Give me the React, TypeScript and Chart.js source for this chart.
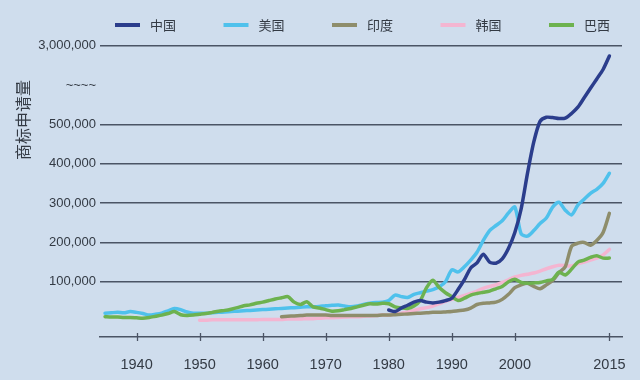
import React, { useEffect, useRef } from "react";
import { Chart, registerables } from "chart.js";

Chart.register(...registerables);

// ---- data (values in thousands of trademark applications) ----
const seriesNames = ["中国", "美国", "印度", "韩国", "巴西"];
const seriesColors = ["#2b3d8c", "#4fc1ec", "#8e8d6b", "#f4b5d1", "#6db24f"];

const chinaStart = 1980;
const chinaValues = [
  28, 24, 33, 40, 48, 52, 48, 46, 48, 52,
  58, 80, 105, 135, 148, 170, 150, 147, 158, 185,
  225, 285, 375, 455, 600, 730, 720, 690, 700, 850,
  1050, 1350, 1650, 1950, 2250, 2680,
];

const usStart = 1935;
const usValues = [
  20, 21, 22, 21, 24, 22, 19, 15, 17, 20,
  26, 32, 29, 23, 20, 20, 20, 21, 22, 23,
  24, 25, 26, 27, 28, 29, 30, 31, 32, 33,
  34, 35, 36, 36, 37, 39, 40, 41, 38, 36,
  38, 42, 45, 47, 48, 52, 66, 62, 60, 68,
  72, 76, 80, 87, 100, 130, 125, 138, 155, 175,
  205, 230, 243, 255, 275, 290, 222, 216, 230, 248,
  262, 290, 302, 282, 270, 295, 310, 325, 335, 350,
  376,
];

const indiaStart = 1963;
const indiaValues = [
  11, 12, 13, 14, 15, 15, 15, 15, 14, 14,
  14, 14, 14, 14, 14, 14, 15, 15, 16, 17,
  18, 19, 20, 21, 22, 22, 23, 24, 26, 28,
  33, 42, 45, 46, 48, 55, 68, 85, 92, 96,
  88, 82, 92, 103, 123, 138, 190, 198, 200, 193,
  205, 225, 274,
];

const koreaStart = 1950;
const koreaValues = [
  2, 2, 3, 3, 3, 3, 3, 3, 3, 3,
  4, 4, 4, 4, 5, 5, 5, 6, 6, 7,
  8, 8, 9, 10, 11, 11, 12, 13, 14, 15,
  15, 17, 20, 23, 27, 31, 34, 38, 44, 50,
  55, 60, 65, 70, 76, 83, 88, 92, 98, 105,
  112, 116, 119, 122, 127, 133, 138, 142, 141, 140,
  146, 150, 155, 160, 168, 182,
];

const brazilStart = 1935;
const brazilValues = [
  11, 10, 10, 9, 9, 8, 7, 9, 12, 15,
  19, 24, 16, 14, 15, 17, 19, 22, 25, 27,
  30, 34, 39, 41, 45, 48, 52, 56, 59, 62,
  48, 42, 49, 36, 33, 29, 25, 26, 29, 32,
  36, 40, 44, 43, 45, 44, 36, 33, 32, 38,
  52, 85, 104, 85, 72, 62, 52, 58, 66, 70,
  73, 76, 82, 88, 100, 106, 98, 96, 97, 98,
  102, 106, 124, 117, 132, 150, 155, 162, 166, 160,
  160,
];

const xTickYears = [1940, 1950, 1960, 1970, 1980, 1990, 2000, 2015];
// y tick positions on the (broken) plotted scale and their labels
const yTickPositions = [100000, 200000, 300000, 400000, 500000, 600000, 700000];
const yTickLabels = ["100,000", "200,000", "300,000", "400,000", "500,000", "~~~~", "3,000,000"];
const yAxisTitle = "商标申请量";

// axis break: above 500,000 the scale is compressed so 3,000,000 sits at 700,000
const BREAK_AT = 500000;
const BREAK_TOP_REAL = 3000000;
const BREAK_TOP_PLOT = 700000;
const toPlot = (v: number) =>
  v <= BREAK_AT ? v : BREAK_AT + ((v - BREAK_AT) * (BREAK_TOP_PLOT - BREAK_AT)) / (BREAK_TOP_REAL - BREAK_AT);

const BG = "#cfdded";
const GRID = "#4b5465";
const TEXT = "#333a44";
const CJK = '"Noto Sans CJK SC", "Noto Sans", sans-serif';
const LATIN = '"Liberation Sans", Arial, sans-serif';

const seriesList = [
  { start: chinaStart, values: chinaValues, order: 0 },
  { start: usStart, values: usValues, order: 2 },
  { start: indiaStart, values: indiaValues, order: 3 },
  { start: koreaStart, values: koreaValues, order: 4 },
  { start: brazilStart, values: brazilValues, order: 1 },
];

const decorPlugin = {
  id: "decor",
  beforeDraw(chart: any) {
    const { ctx, width, height } = chart;
    ctx.save();
    ctx.fillStyle = BG;
    ctx.fillRect(0, 0, width, height);
    ctx.restore();
  },
  afterDraw(chart: any) {
    const { ctx, chartArea } = chart;
    const xs = chart.scales.x;
    ctx.save();
    // x tick marks crossing the axis line
    ctx.strokeStyle = GRID;
    ctx.lineWidth = 1.3;
    xTickYears.forEach((yr) => {
      const px = Math.round(xs.getPixelForValue(yr)) + 0.5;
      ctx.beginPath();
      ctx.moveTo(px, chartArea.bottom - 4);
      ctx.lineTo(px, chartArea.bottom + 4);
      ctx.stroke();
    });
    // legend
    ctx.font = `13px ${CJK}`;
    ctx.textBaseline = "middle";
    ctx.textAlign = "left";
    seriesNames.forEach((name, i) => {
      const x0 = chartArea.left + 15 + i * 108.5;
      const y0 = 25;
      ctx.strokeStyle = seriesColors[i];
      ctx.lineWidth = 4;
      ctx.lineCap = "butt";
      ctx.beginPath();
      ctx.moveTo(x0, y0);
      ctx.lineTo(x0 + 25, y0);
      ctx.stroke();
      ctx.fillStyle = TEXT;
      ctx.fillText(name, x0 + 35, y0);
    });
    // y axis title (rotated)
    ctx.translate(23, 120);
    ctx.rotate(-Math.PI / 2);
    ctx.font = `16px ${CJK}`;
    ctx.textAlign = "center";
    ctx.fillStyle = TEXT;
    ctx.fillText(yAxisTitle, 0, 0);
    ctx.restore();
  },
};

export default function App() {
  const canvasRef = useRef<HTMLCanvasElement | null>(null);

  useEffect(() => {
    document.body.style.margin = "0";
    document.body.style.background = BG;
    const canvas = canvasRef.current;
    if (!canvas) return;

    const datasets = seriesList.map((s, i) => ({
      label: seriesNames[i],
      data: s.values.map((v, k) => ({ x: s.start + k, y: toPlot(v * 1000) })),
      borderColor: seriesColors[i],
      backgroundColor: seriesColors[i],
      borderWidth: 3.5,
      pointRadius: 0,
      tension: 0.25,
      borderCapStyle: "round" as const,
      borderJoinStyle: "round" as const,
      fill: false,
      order: s.order,
    }));

    const chart = new Chart(canvas, {
      type: "line",
      data: { datasets },
      options: {
        animation: false,
        responsive: false,
        maintainAspectRatio: false,
        devicePixelRatio: 1,
        layout: { padding: { top: 40, right: 18, bottom: 0, left: 0 } },
        plugins: {
          legend: { display: false },
          tooltip: { enabled: false },
        },
        scales: {
          x: {
            type: "linear",
            min: 1934.2,
            max: 2017,
            afterBuildTicks: (scale: any) => {
              scale.ticks = xTickYears.map((v) => ({ value: v }));
            },
            afterFit: (scale: any) => {
              scale.height = 43;
            },
            grid: { display: false },
            border: { display: true, color: GRID, width: 1.5 },
            ticks: {
              padding: 11,
              color: TEXT,
              font: { family: LATIN, size: 14.5 },
              maxRotation: 0,
              autoSkip: false,
              callback: (v: any) => String(v),
            },
          },
          y: {
            type: "linear",
            min: -40700,
            max: 715000,
            afterBuildTicks: (scale: any) => {
              scale.ticks = yTickPositions.map((v) => ({ value: v }));
            },
            afterFit: (scale: any) => {
              scale.width = 100;
            },
            grid: {
              drawTicks: false,
              lineWidth: 1.5,
              color: (ctx: any) =>
                ctx.tick && ctx.tick.value === 600000 ? "rgba(0,0,0,0)" : GRID,
            },
            border: { display: false },
            ticks: {
              padding: 4,
              color: TEXT,
              font: { family: LATIN, size: 13 },
              autoSkip: false,
              callback: (v: any) => {
                const i = yTickPositions.indexOf(Number(v));
                return i >= 0 ? yTickLabels[i] : "";
              },
            },
          },
        },
      },
      plugins: [decorPlugin],
    });

    return () => chart.destroy();
  }, []);

  return (
    <div style={{ width: 640, height: 380, background: BG }}>
      <canvas ref={canvasRef} width={640} height={380} style={{ display: "block" }} />
    </div>
  );
}
